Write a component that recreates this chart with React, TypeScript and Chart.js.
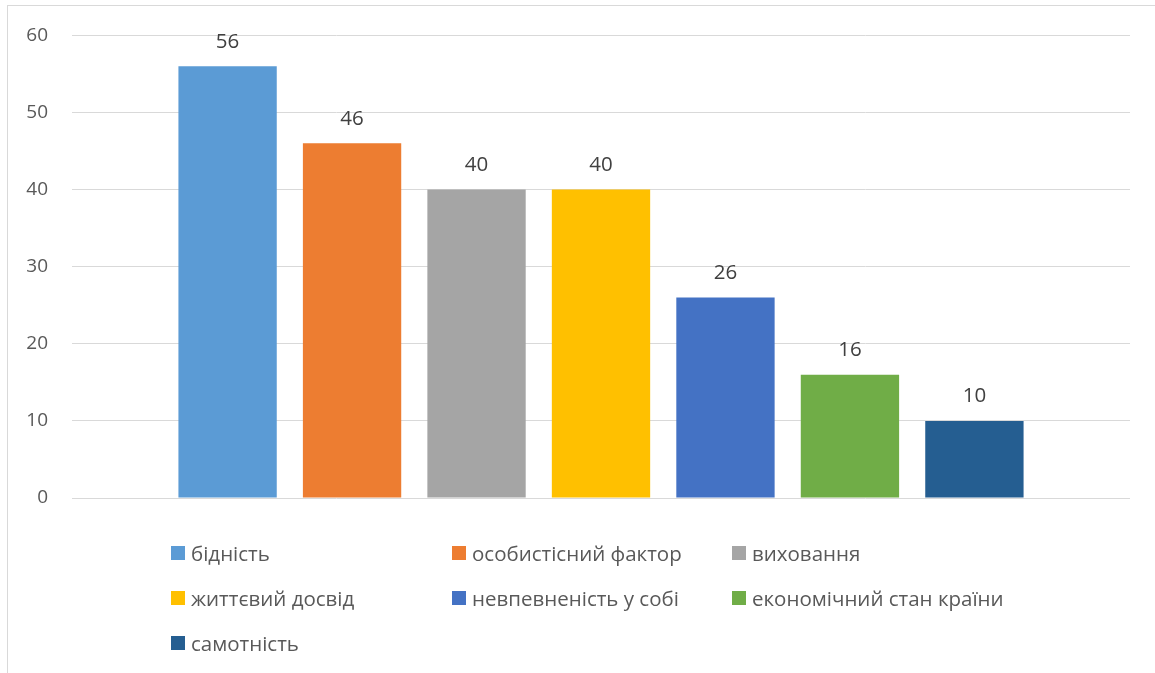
import React, { useEffect, useRef } from "react";
import { Chart, registerables } from "chart.js";

Chart.register(...registerables);

const categories = [
  "бідність",
  "особистісний фактор",
  "виховання",
  "життєвий досвід",
  "невпевненість у собі",
  "економічний стан країни",
  "самотність",
];
const values = [56, 46, 40, 40, 26, 16, 10];
const colors = ["#5B9BD5", "#ED7D31", "#A5A5A5", "#FFC000", "#4472C4", "#70AD47", "#255E91"];
const yTicks = [0, 10, 20, 30, 40, 50, 60];

const FONT = "'Open Sans', 'Noto Sans', sans-serif";

const valueLabels = {
  id: "valueLabels",
  afterDatasetsDraw(chart: any) {
    const ctx = chart.ctx;
    const meta = chart.getDatasetMeta(0);
    ctx.save();
    ctx.font = `20.5px ${FONT}`;
    ctx.fillStyle = "#404040";
    ctx.textAlign = "center";
    ctx.textBaseline = "alphabetic";
    meta.data.forEach((bar: any, i: number) => {
      ctx.fillText(String(values[i]), bar.x, bar.y - 18.5);
    });
    ctx.restore();
  },
};

export default function App() {
  const ref = useRef<HTMLCanvasElement>(null);

  useEffect(() => {
    document.body.style.margin = "0";
    const chart = new Chart(ref.current!, {
      type: "bar",
      data: {
        labels: categories,
        datasets: [
          {
            data: values.map((v, i) => ({ x: i, y: v })),
            backgroundColor: colors,
            barPercentage: 0.79,
            categoryPercentage: 1,
          },
        ],
      },
      options: {
        animation: false,
        responsive: false,
        maintainAspectRatio: false,
        layout: { padding: { top: 34, bottom: 175, right: 25, left: 0 } },
        plugins: { legend: { display: false }, tooltip: { enabled: false } },
        scales: {
          x: {
            type: "linear",
            min: -1.25,
            max: 7.25,
            offset: false,
            display: false,
          },
          y: {
            min: 0,
            max: 60,
            afterBuildTicks: (scale: any) => {
              scale.ticks = yTicks.map((v) => ({ value: v }));
            },
            afterFit: (scale: any) => {
              scale.width = 72;
            },
            border: { display: false },
            grid: { color: "#D9D9D9", lineWidth: 1, drawTicks: false },
            ticks: {
              padding: 24,
              color: "#595959",
              font: { family: FONT, size: 19 },
            },
          },
        },
      },
      plugins: [valueLabels],
    } as any);
    return () => chart.destroy();
  }, []);

  const legendCols = [171, 452, 732];
  const legendRows = [553, 598, 643];

  return (
    <div style={{ position: "relative", width: 1155, height: 673, overflow: "hidden", background: "#fff" }}>
      <div
        style={{
          position: "absolute",
          left: 7,
          top: 5,
          width: 1200,
          height: 700,
          border: "1px solid #D9D9D9",
          boxSizing: "border-box",
        }}
      />
      <canvas ref={ref} width={1155} height={673} style={{ position: "absolute", left: 0, top: 0 }} />
      {categories.map((c, i) => (
        <div
          key={c}
          style={{
            position: "absolute",
            left: legendCols[i % 3],
            top: legendRows[Math.floor(i / 3)] - 15,
            height: 30,
            display: "flex",
            alignItems: "center",
            fontFamily: FONT,
            fontSize: 20.5,
            color: "#595959",
            whiteSpace: "nowrap",
          }}
        >
          <span style={{ display: "inline-block", width: 14, height: 14, background: colors[i], marginRight: 6 }} />
          <span>{c}</span>
        </div>
      ))}
    </div>
  );
}
